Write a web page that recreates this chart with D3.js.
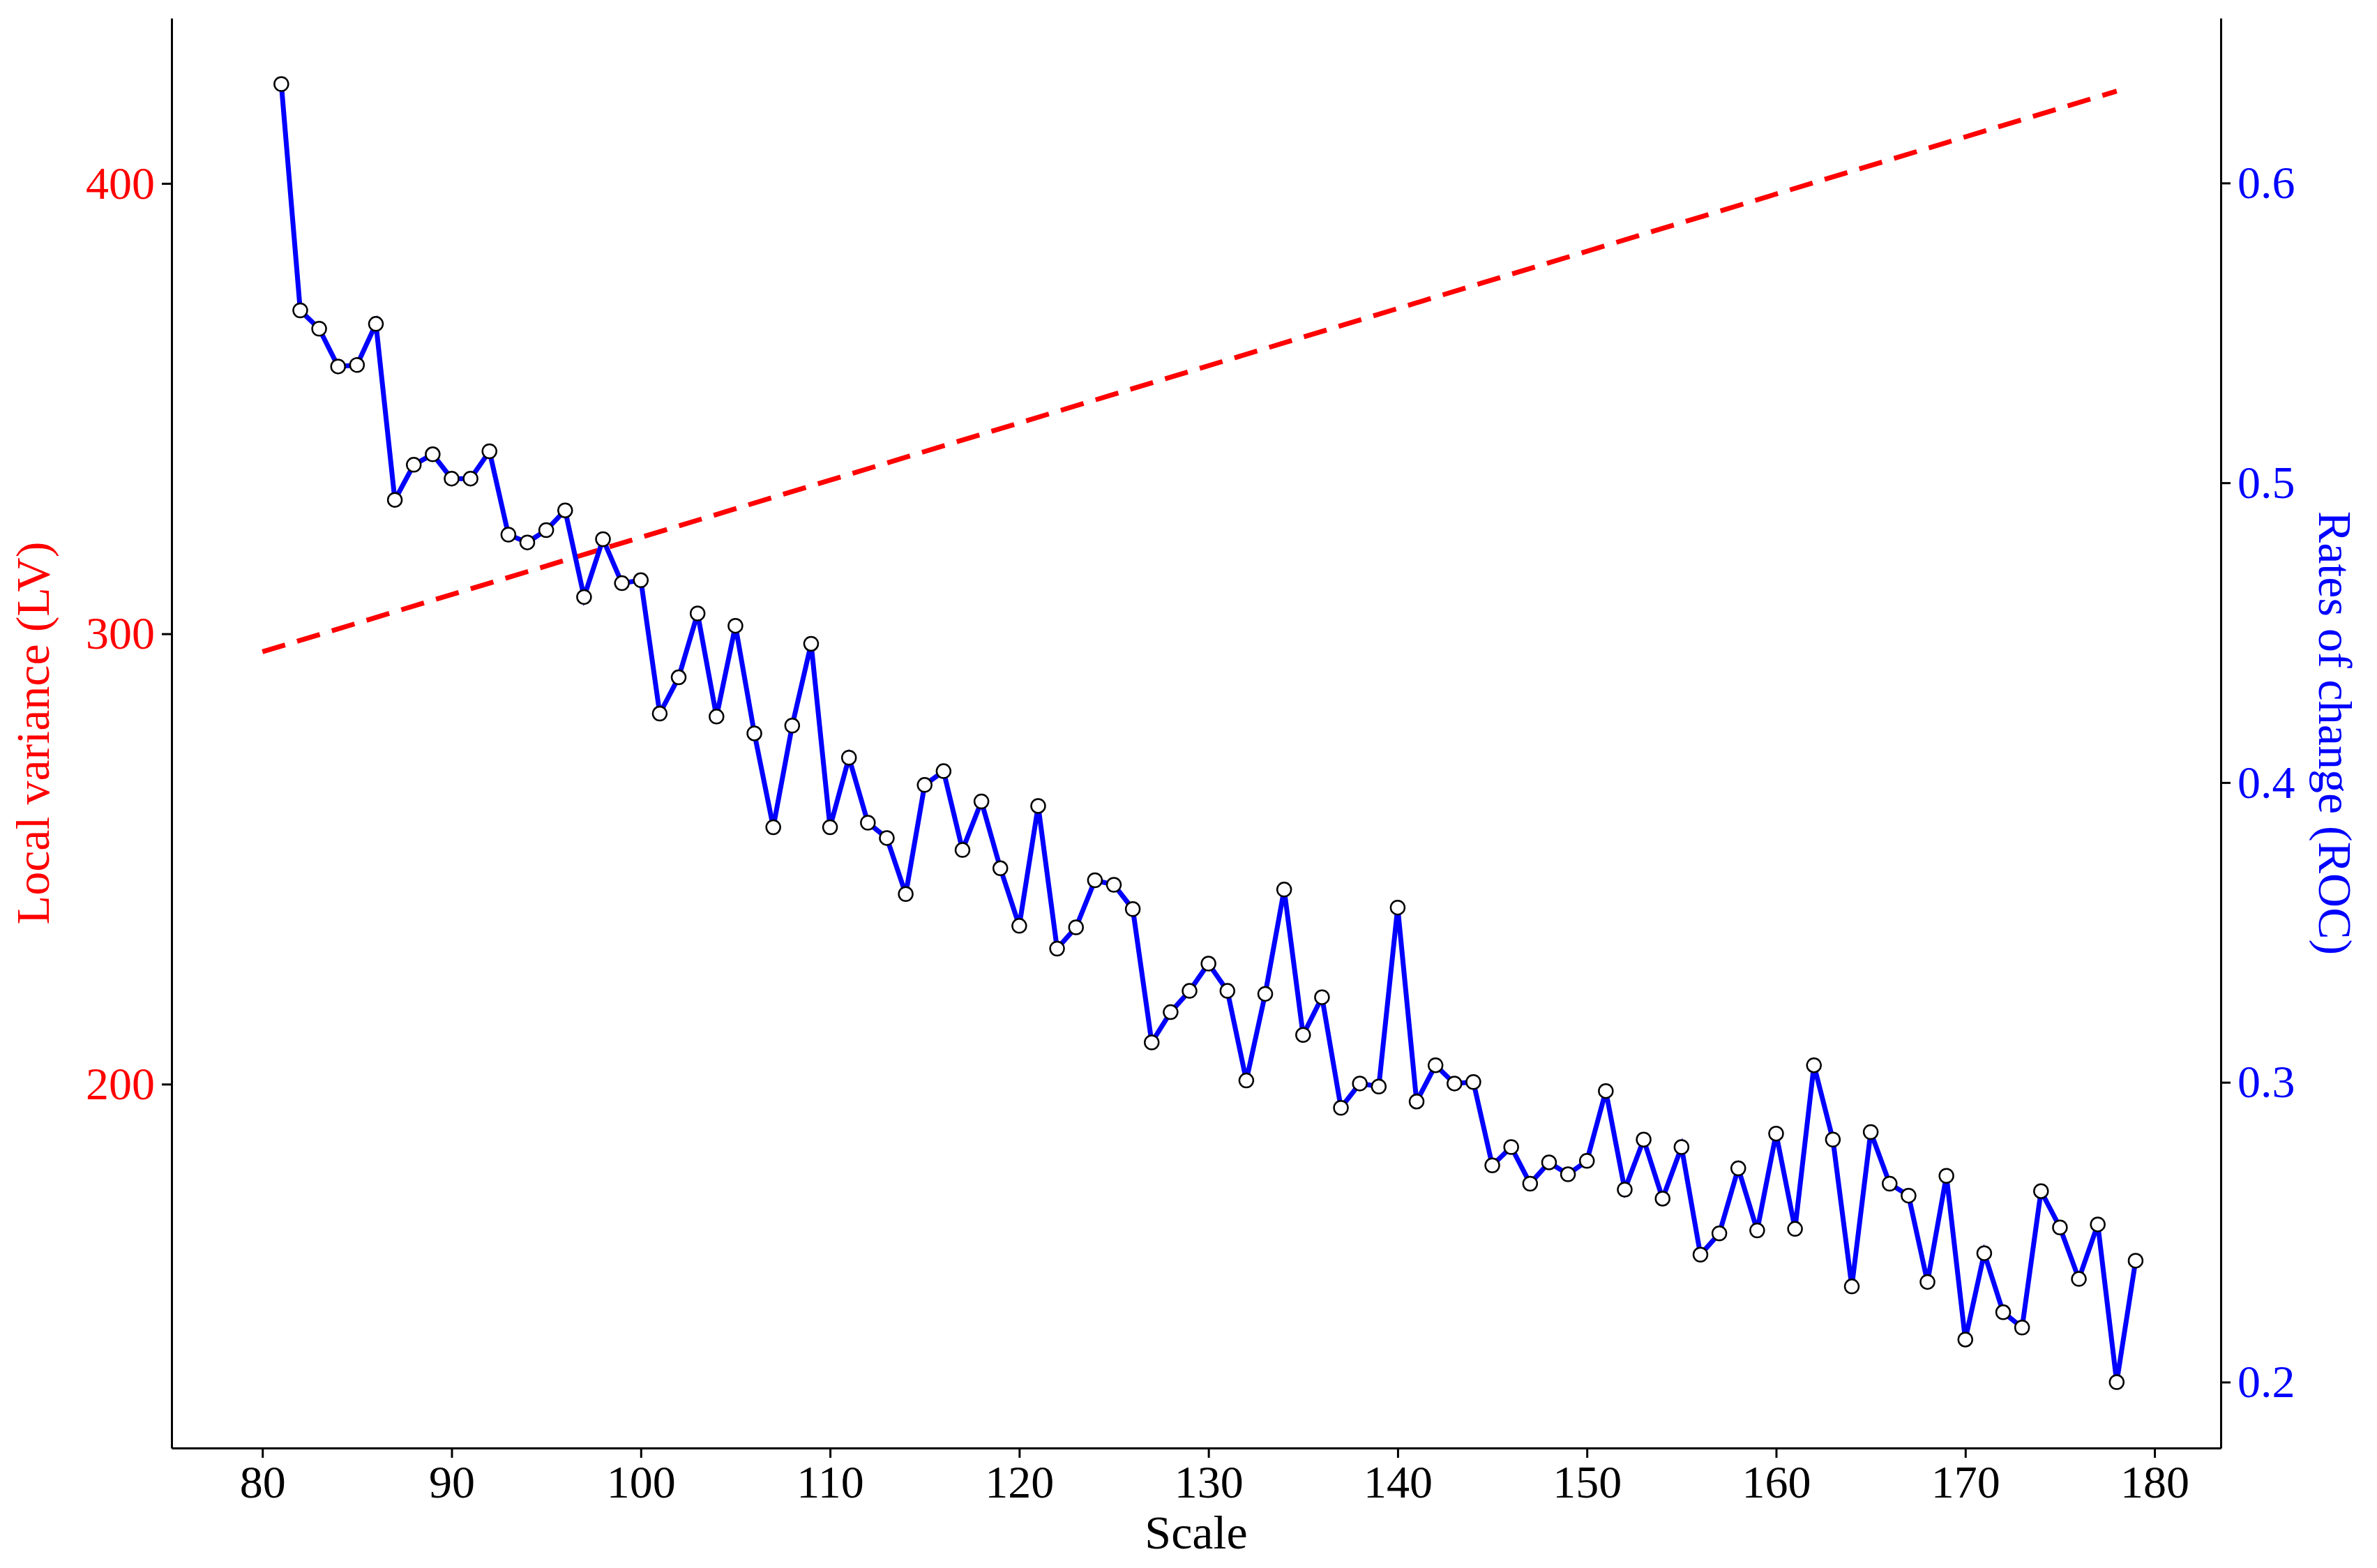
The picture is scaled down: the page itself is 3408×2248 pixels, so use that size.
<!DOCTYPE html>
<html><head><meta charset="utf-8">
<script src="https://cdn.jsdelivr.net/npm/d3@7"></script>
<style>body{margin:0;background:#fff}svg{display:block}text{font-family:"Liberation Serif","Times New Roman",serif}</style>
</head><body><svg id="c" width="3408" height="2248"></svg>
<script>
const lvScale = [80, 178];
const lvValues = [296, 420.5];
const rocScale = d3.range(81, 180);
const rocValues = [0.633,0.5575,0.5514,0.5388,0.5393,0.553,0.4943,0.506,0.5095,0.5014,0.5014,0.5105,0.4827,0.4801,0.4842,0.4908,0.4619,0.4812,0.4665,0.4675,
0.423,0.4351,0.4564,0.422,0.4523,0.4164,0.3851,0.419,0.4463,0.3851,0.4083,0.3866,0.3815,0.3628,0.3992,0.4038,0.3775,0.3937,0.3714,0.3522,
0.3922,0.3446,0.3517,0.3674,0.3659,0.3578,0.3133,0.3234,0.3305,0.3396,0.3305,0.3006,0.3295,0.3643,0.3158,0.3284,0.2915,0.2996,0.2986,0.3583,
0.2936,0.3057,0.2996,0.3001,0.2723,0.2784,0.2662,0.2733,0.2693,0.2738,0.2971,0.2642,0.2809,0.2612,0.2784,0.2425,0.2496,0.2713,0.2506,0.2829,
0.2511,0.3057,0.2809,0.2319,0.2834,0.2662,0.2622,0.2334,0.2688,0.2142,0.243,0.2233,0.2182,0.2637,0.2516,0.2344,0.2526,0.2,0.2405];
const xTicks = [80,90,100,110,120,130,140,150,160,170,180];
const lvTicks = [200,300,400];
const rocTicks = [0.2,0.3,0.4,0.5,0.6];

const L=246,R=3184,T=26,B=2076;
const svg=d3.select("#c");
const x=d3.scaleLinear().domain([75.2,183.5]).range([L,R]);
const yL=d3.scaleLinear().domain([119.2,436.7]).range([B,T]);
const yR=d3.scaleLinear().domain([0.178,0.655]).range([B,T]);

function styleAxis(g,color){g.selectAll("path,line").attr("stroke","#000").attr("stroke-width",3);
 g.selectAll("text").attr("font-size",66).attr("fill",color).style("font-family","Liberation Serif, serif");}
svg.append("g").attr("transform",`translate(0,${B})`).call(d3.axisBottom(x).tickValues(xTicks).tickSize(14).tickSizeOuter(0).tickPadding(10)).call(g=>styleAxis(g,"#000"));
svg.append("g").attr("transform",`translate(${L},0)`).call(d3.axisLeft(yL).tickValues(lvTicks).tickSize(14).tickSizeOuter(0).tickPadding(10)).call(g=>styleAxis(g,"#ff0000"));
svg.append("g").attr("transform",`translate(${R},0)`).call(d3.axisRight(yR).tickValues(rocTicks).tickFormat(d3.format(".1f")).tickSize(14).tickSizeOuter(0).tickPadding(10)).call(g=>styleAxis(g,"#0000ff"));

svg.append("path").datum(lvScale.map((s,i)=>[s,lvValues[i]]))
 .attr("d",d3.line().x(d=>x(d[0])).y(d=>yL(d[1]))).attr("fill","none").attr("stroke","#ff0000").attr("stroke-width",7).attr("stroke-dasharray","34,18");
const pts=rocScale.map((s,i)=>[s,rocValues[i]]);
svg.append("path").datum(pts).attr("d",d3.line().x(d=>x(d[0])).y(d=>yR(d[1]))).attr("fill","none").attr("stroke","#0000ff").attr("stroke-width",7);
svg.selectAll("circle").data(pts).join("circle").attr("cx",d=>x(d[0])).attr("cy",d=>yR(d[1])).attr("r",10).attr("fill","#fff").attr("stroke","#000").attr("stroke-width",2.5);

svg.append("text").attr("x",(L+R)/2).attr("y",2220).attr("text-anchor","middle").attr("font-size",68).text("Scale");
svg.append("text").attr("transform",`translate(70,${(T+B)/2}) rotate(-90)`).attr("text-anchor","middle").attr("font-size",68).attr("fill","#ff0000").text("Local variance (LV)");
svg.append("text").attr("transform",`translate(3325,${(T+B)/2}) rotate(90)`).attr("text-anchor","middle").attr("font-size",68).attr("fill","#0000ff").text("Rates of change (ROC)");
</script></body></html>
